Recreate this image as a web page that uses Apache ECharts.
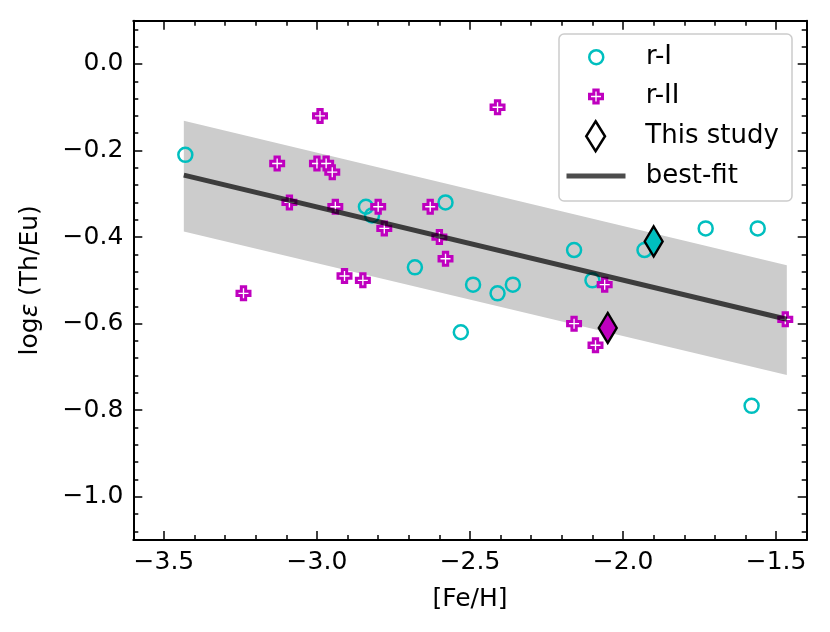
<!DOCTYPE html>
<html lang="en">
<head>
  <meta charset="UTF-8">
  <title>log eps (Th/Eu) vs [Fe/H]</title>
  <script src="https://cdn.jsdelivr.net/npm/echarts@6/dist/echarts.min.js"></script>
  <style>
    html, body { margin: 0; padding: 0; background: #fff; }
    #main { width: 830px; height: 632px; }
  </style>
</head>
<body>
  <div id="main"></div>

  <script>
    // r-I stars
    const rI_FeH = [-3.43, -2.84, -2.82, -2.58, -2.68, -2.49, -2.41, -2.36, -2.53, -2.16, -2.10, -1.93, -1.73, -1.56, -1.58];
    const rI_ThEu = [-0.21, -0.33, -0.35, -0.32, -0.47, -0.51, -0.53, -0.51, -0.62, -0.43, -0.50, -0.43, -0.38, -0.38, -0.79];

    // r-II stars
    const rII_FeH = [-2.99, -2.41, -3.13, -3.00, -2.97, -2.95, -3.09, -2.94, -2.80, -2.78,
                     -2.63, -2.60, -2.58, -2.91, -2.85, -3.24, -2.06, -2.16, -2.09, -1.47];
    const rII_ThEu = [-0.12, -0.10, -0.23, -0.23, -0.23, -0.25, -0.32, -0.33, -0.33, -0.38,
                      -0.33, -0.40, -0.45, -0.49, -0.50, -0.53, -0.51, -0.60, -0.65, -0.59];

    // this study (class tells which group the star belongs to)
    const study_FeH = [-1.90, -2.05];
    const study_ThEu = [-0.41, -0.61];
    const study_class = ['r-I', 'r-II'];

    // best-fit line and its band
    const fit_FeH = [-3.435, -1.465];
    const fit_ThEu = [-0.257, -0.590];
    const band_upper = [-0.131, -0.465];
    const band_lower = [-0.387, -0.719];

    // axis ticks
    const xTicks = [-3.5, -3.0, -2.5, -2.0, -1.5];
    const yTicks = [-1.0, -0.8, -0.6, -0.4, -0.2, 0.0];

    // minor ticks: 0.1 on x, 0.04 on y
    const xMinor = [];
    for (let k = -35; k <= -15; k++) if (k % 5 !== 0) xMinor.push(k / 10);
    const yMinor = [];
    for (let k = -27; k <= 2; k++) if (k % 5 !== 0) yMinor.push(+(k * 0.04).toFixed(2));

    const CYAN = '#00bfbf';
    const MAGENTA = '#bf00bf';
    const FONT = 'DejaVu Sans';
    const classColor = { 'r-I': CYAN, 'r-II': MAGENTA };

    const plusPath = 'path://M-1,-3L1,-3L1,-1L3,-1L3,1L1,1L1,3L-1,3L-1,1L-3,1L-3,-1L-1,-1Z';
    const diamondPath = 'path://M0,-16L10,0L0,16L-10,0Z';

    const fmt = v => v.toFixed(1).replace('-', '\u2212');

    function makeX(position, ticks, len, line, labels) {
      return {
        type: 'value', position: position, min: -3.6, max: -1.4,
        axisLine: { show: line, onZero: false, lineStyle: { color: '#000', width: 2 } },
        axisTick: { show: true, inside: true, length: len, customValues: ticks,
                    lineStyle: { color: '#000', width: 1.5 } },
        axisLabel: labels ? { show: true, customValues: ticks, formatter: fmt, margin: 10,
                              color: '#000', fontSize: 25, fontFamily: FONT } : { show: false },
        splitLine: { show: false }
      };
    }
    function makeY(position, ticks, len, line, labels) {
      return {
        type: 'value', position: position, min: -1.1, max: 0.1,
        axisLine: { show: line, onZero: false, lineStyle: { color: '#000', width: 2 } },
        axisTick: { show: true, inside: true, length: len, customValues: ticks,
                    lineStyle: { color: '#000', width: 1.5 } },
        axisLabel: labels ? { show: true, customValues: ticks, formatter: fmt, margin: 10,
                              color: '#000', fontSize: 25, fontFamily: FONT } : { show: false },
        splitLine: { show: false }
      };
    }

    const xAxes = [
      makeX('bottom', xTicks, 9, true, true),
      makeX('bottom', xMinor, 5, false, false),
      makeX('top', xTicks, 9, true, false),
      makeX('top', xMinor, 5, false, false)
    ];
    Object.assign(xAxes[0], {
      name: '[Fe/H]', nameLocation: 'middle', nameGap: 47,
      nameTextStyle: { color: '#000', fontSize: 25, fontFamily: FONT }
    });

    const yAxes = [
      makeY('left', yTicks, 9, true, true),
      makeY('left', yMinor, 5, false, false),
      makeY('right', yTicks, 9, true, false),
      makeY('right', yMinor, 5, false, false)
    ];
    Object.assign(yAxes[0], {
      name: 'log{e|\u03b5} (Th/Eu)', nameLocation: 'middle', nameGap: 90, nameRotate: 90,
      nameTextStyle: {
        color: '#000', fontSize: 25, fontFamily: FONT,
        rich: { e: { fontStyle: 'italic', fontSize: 25, fontFamily: FONT, color: '#000' } }
      }
    });

    const legendText = { color: '#000', fontSize: 26, fontFamily: FONT };
    function legendRow(name, left, top, h, icon, style) {
      return {
        data: [{ name: name, icon: icon }], left: left, top: top, orient: 'vertical',
        itemWidth: 89.4, itemHeight: h, padding: 0, selectedMode: false,
        symbolKeepAspect: true, itemStyle: style, textStyle: legendText
      };
    }

    const chart = echarts.init(document.getElementById('main'));
    chart.setOption({
      animation: false,
      backgroundColor: '#fff',
      grid: { left: 133.3, right: 23.3, top: 20.7, bottom: 92 },
      xAxis: xAxes,
      yAxis: yAxes,
      graphic: [{
        type: 'rect', z: 3,
        shape: { x: 559, y: 34, width: 233, height: 167, r: 5 },
        style: { fill: 'rgba(255,255,255,0.8)', stroke: '#cccccc', lineWidth: 1.5 }
      }],
      legend: [
        legendRow('r-I', 588, 44.2, 14, 'circle', { color: 'transparent', borderColor: CYAN, borderWidth: 2.5 }),
        legendRow('r-II', 588, 83.5, 13, plusPath, { color: '#fff', borderColor: MAGENTA, borderWidth: 3 }),
        legendRow('This study', 585, 120, 30, diamondPath, { color: '#fff', borderColor: '#000', borderWidth: 2.5 }),
        legendRow('best-fit', 566.5, 163, 5, 'path://M0,0H59V5H0Z', { color: 'rgba(0,0,0,0.7)', borderWidth: 0 })
      ],
      series: [
        {
          name: 'band', type: 'custom', z: 1, silent: true,
          data: [[fit_FeH[0], band_upper[0]]],
          renderItem: function (params, api) {
            const pts = [
              api.coord([fit_FeH[0], band_upper[0]]),
              api.coord([fit_FeH[1], band_upper[1]]),
              api.coord([fit_FeH[1], band_lower[1]]),
              api.coord([fit_FeH[0], band_lower[0]])
            ];
            return { type: 'polygon', shape: { points: pts }, style: { fill: '#cccccc' } };
          }
        },
        {
          name: 'r-I', type: 'scatter', z: 2,
          data: rI_FeH.map((x, i) => [x, rI_ThEu[i]]),
          symbol: 'circle', symbolSize: 14,
          itemStyle: { color: 'transparent', borderColor: CYAN, borderWidth: 2.5, opacity: 1 }
        },
        {
          name: 'r-II', type: 'scatter', z: 2,
          data: rII_FeH.map((x, i) => [x, rII_ThEu[i]]),
          symbol: plusPath, symbolSize: 13,
          itemStyle: { color: '#fff', borderColor: MAGENTA, borderWidth: 3, opacity: 1 }
        },
        {
          name: 'best-fit', type: 'line', z: 3,
          data: fit_FeH.map((x, i) => [x, fit_ThEu[i]]),
          showSymbol: false, symbol: 'none',
          lineStyle: { color: '#000', opacity: 0.7, width: 5, cap: 'butt' }
        },
        {
          name: 'This study', type: 'scatter', z: 4,
          data: study_FeH.map((x, i) => ({
            value: [x, study_ThEu[i]],
            itemStyle: { color: classColor[study_class[i]] }
          })),
          symbol: diamondPath, symbolSize: [18, 30],
          itemStyle: { borderColor: '#000', borderWidth: 2.5, opacity: 1 }
        }
      ]
    });
  </script>
</body>
</html>
